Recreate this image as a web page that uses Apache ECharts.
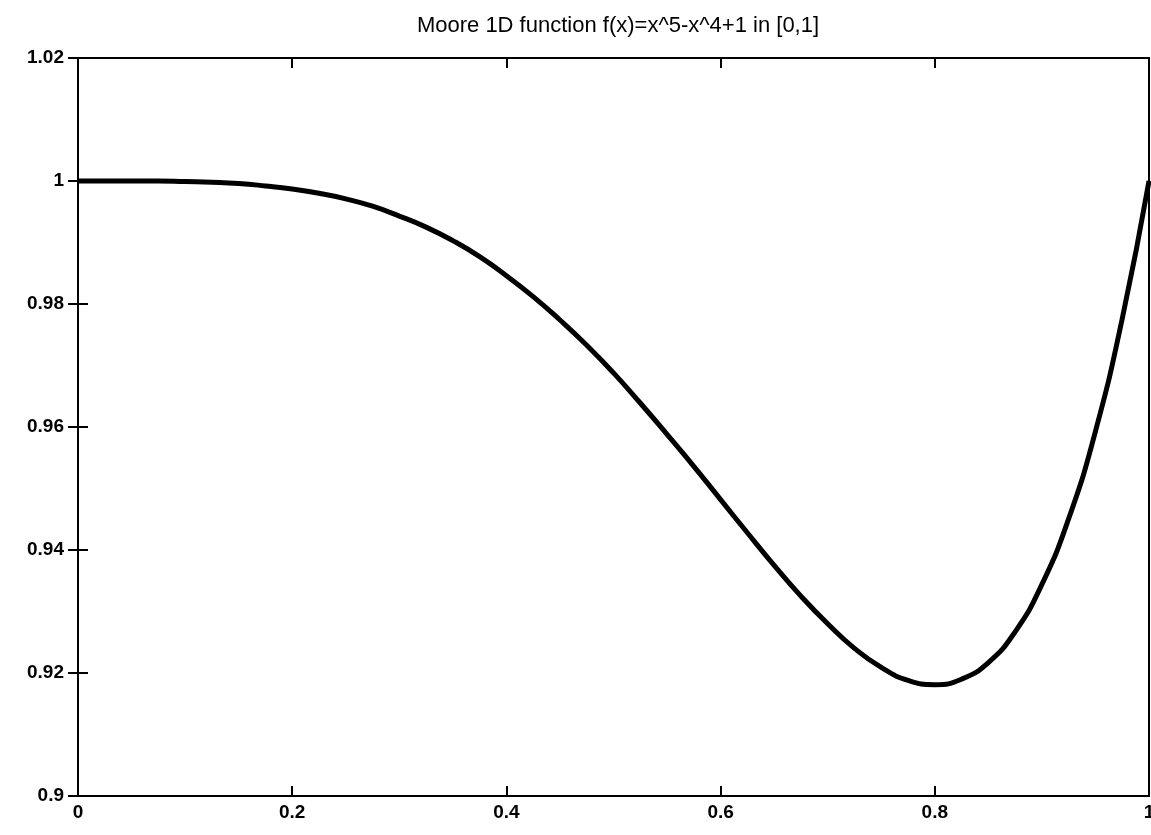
<!DOCTYPE html>
<html>
<head>
<meta charset="utf-8">
<script src="https://cdn.jsdelivr.net/npm/echarts@6/dist/echarts.min.js"></script>
<style>
	html, body { margin: 0; padding: 0; background: #fff; }
	#chart { width: 1151px; height: 835px; }
</style>
</head>
<body>
<div id="chart"></div>
<script>
// values
var xs = [0, 0.025, 0.05, 0.075, 0.1, 0.125, 0.15, 0.175, 0.2, 0.225, 0.25, 0.275, 0.3, 0.325, 0.35, 0.375, 0.4, 0.425, 0.45, 0.475,
	0.5, 0.525, 0.55, 0.575, 0.6, 0.625, 0.65, 0.675, 0.7, 0.725, 0.75, 0.775, 0.8, 0.825, 0.85, 0.875, 0.9, 0.925, 0.95, 0.975, 1];
var ys = [1.0, 1.0, 1.0, 1.0, 0.9999, 0.9998, 0.9996, 0.9992, 0.9987, 0.998, 0.9971, 0.9959, 0.9943, 0.9925, 0.9903, 0.9877, 0.9846, 0.9812, 0.9774, 0.9733,
	0.9688, 0.9639, 0.9588, 0.9536, 0.9482, 0.9428, 0.9375, 0.9325, 0.928, 0.924, 0.9209, 0.9188, 0.9181, 0.919, 0.9217, 0.9267, 0.9344, 0.9451, 0.9593, 0.9776, 1.0];
var titleText = 'Moore 1D function f(x)=x^5-x^4+1 in [0,1]';

var points = [];
for (var i = 0; i < xs.length; i++) {
	points.push([xs[i], ys[i]]);
}

var font = {
	fontFamily: 'Liberation Sans',
	fontWeight: 'bold',
	fontSize: 19,
	color: '#000'
};

var tick = { show: true, inside: true, length: 10, lineStyle: { color: '#000', width: 2 } };

var myChart = echarts.init(document.getElementById('chart'));
myChart.setOption({
	animation: false,
	title: {
		text: titleText,
		left: 613,
		top: 10,
		textAlign: 'center',
		textStyle: { fontFamily: 'Liberation Sans', fontWeight: 'normal', fontSize: 22, color: '#000' }
	},
	grid: {
		left: 78, right: 2, top: 58, bottom: 39,
		outerBoundsMode: 'none',
		show: true, borderColor: '#000', borderWidth: 2
	},
	xAxis: [{
		type: 'value', min: 0, max: 1, interval: 0.2,
		axisLine: { show: true, lineStyle: { color: '#000', width: 2 } },
		axisTick: tick,
		splitLine: { show: false },
		axisLabel: Object.assign({ margin: 7 }, font)
	}, {
		type: 'value', min: 0, max: 1, interval: 0.2, position: 'top',
		axisLine: { show: false },
		axisTick: tick,
		splitLine: { show: false },
		axisLabel: { show: false }
	}],
	yAxis: [{
		type: 'value', min: 0.9, max: 1.02, interval: 0.02,
		axisLine: { show: true, lineStyle: { color: '#000', width: 2 } },
		axisTick: tick,
		splitLine: { show: false },
		axisLabel: Object.assign({ margin: 14 }, font)
	}, {
		type: 'value', min: 0.9, max: 1.02, interval: 0.02, position: 'right',
		axisLine: { show: false },
		axisTick: tick,
		splitLine: { show: false },
		axisLabel: { show: false }
	}],
	series: [{
		type: 'line',
		data: points,
		smooth: true,
		showSymbol: false,
		lineStyle: { color: '#000', width: 5 }
	}]
});
</script>
</body>
</html>
